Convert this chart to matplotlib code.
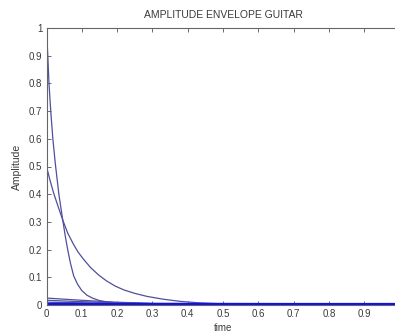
import matplotlib
matplotlib.use("Agg")
import matplotlib.pyplot as plt

# Data
t_fast = [0, 0.004, 0.007, 0.012, 0.018, 0.025, 0.035, 0.046, 0.053, 0.06, 0.068, 0.077, 0.088, 0.1, 0.115, 0.13, 0.15, 0.17, 0.2, 0.25, 0.3, 1.0]
v_fast = [1.0, 0.89, 0.8, 0.7, 0.6, 0.51, 0.4, 0.307, 0.25, 0.2, 0.15, 0.105, 0.075, 0.052, 0.035, 0.025, 0.016, 0.011, 0.007, 0.005, 0.004, 0.004]

t_slow = [0, 0.01, 0.02, 0.033, 0.046, 0.06, 0.076, 0.09, 0.105, 0.125, 0.148, 0.17, 0.195, 0.22, 0.25, 0.285, 0.33, 0.38, 0.43, 0.5, 1.0]
v_slow = [0.5, 0.45, 0.405, 0.355, 0.307, 0.26, 0.22, 0.19, 0.165, 0.135, 0.108, 0.087, 0.068, 0.054, 0.042, 0.031, 0.021, 0.013, 0.008, 0.004, 0.003]

t_small = [0, 0.1, 0.2, 0.3, 1.0]
v_small1 = [0.025, 0.017, 0.01, 0.006, 0.004]
v_small2 = [0.017, 0.012, 0.008, 0.005, 0.004]
v_small3 = [0.01, 0.008, 0.006, 0.005, 0.004]

t_base = [0, 1.0]
v_base = [0.005, 0.005]

x_ticks = [0, 0.1, 0.2, 0.3, 0.4, 0.5, 0.6, 0.7, 0.8, 0.9, 1.0]
x_labels = ["0", "0.1", "0.2", "0.3", "0.4", "0.5", "0.6", "0.7", "0.8", "0.9", ""]
y_ticks = [0, 0.1, 0.2, 0.3, 0.4, 0.5, 0.6, 0.7, 0.8, 0.9, 1.0]
y_labels = ["0", "0.1", "0.2", "0.3", "0.4", "0.5", "0.6", "0.7", "0.8", "0.9", "1"]

plt.rcParams['font.family'] = ['Liberation Sans', 'DejaVu Sans']

fig = plt.figure(figsize=(3.95, 3.33), dpi=100)
ax = fig.add_axes([46.5 / 395, (333 - 305) / 333, (399.5 - 46.5) / 395, (305 - 28) / 333])

curve_col = '#4f4f9c'
ax.plot(t_small, v_small1, color=curve_col, lw=0.9)
ax.plot(t_small, v_small2, color=curve_col, lw=0.9)
ax.plot(t_small, v_small3, color=curve_col, lw=0.9)
ax.plot(t_slow, v_slow, color=curve_col, lw=0.9)
ax.plot(t_fast, v_fast, color=curve_col, lw=0.9)
ax.plot(t_base, v_base, color='#1010ee', lw=1.6)

ax.set_xlim(0, 1)
ax.set_ylim(0, 1)
ax.set_xticks(x_ticks)
ax.set_xticklabels(x_labels)
ax.set_yticks(y_ticks)
ax.set_yticklabels(y_labels)

txt_col = '#3a3a3a'
ax.tick_params(direction='in', length=3, width=0.6, labelsize=7, colors='#555555',
               labelcolor=txt_col, top=True, right=True, pad=3)
for s in ax.spines.values():
    s.set_color('#666666')
    s.set_linewidth(0.8)

ax.set_title("AMPLITUDE ENVELOPE GUITAR", fontsize=7.5, color=txt_col, pad=7)
ax.set_xlabel("time", fontsize=7, color=txt_col, labelpad=3)
ax.set_ylabel("Amplitude", fontsize=7.5, color=txt_col, labelpad=5)

fig.savefig("out.png", dpi=100)
